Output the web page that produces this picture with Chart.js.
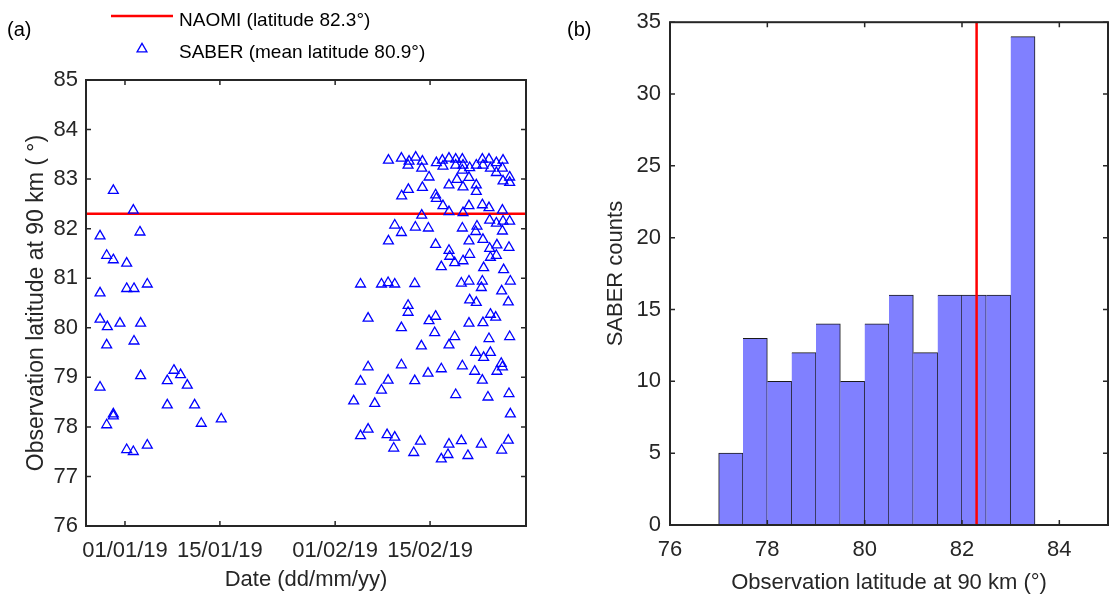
<!DOCTYPE html>
<html>
<head>
<meta charset="utf-8">
<script src="https://cdn.jsdelivr.net/npm/chart.js@4.4.0/dist/chart.umd.min.js"></script>
<style>
  body { margin: 0; background: #fff; }
  #wrap { position: relative; width: 1114px; height: 603px; }
  .panel { position: absolute; top: 0; height: 603px; }
  #pa { left: 0; width: 560px; }
  #pb { left: 560px; width: 554px; }
</style>
</head>
<body>
<div id="wrap">
  <div class="panel" id="pa"><canvas id="chartA"></canvas></div>
  <div class="panel" id="pb"><canvas id="chartB"></canvas></div>
</div>
<script>
// ---- data, panel (a): days since 01/01/19 and observation latitude ----
const janDays = [-1.72, 1.23, -3.68, 2.21, -2.70, -1.72, 0.25, -3.68, 0.25, 1.33, 3.29,
  -3.68, -2.60, -0.74, 2.31, -2.70, 1.33, 2.31, -3.68, 6.24, 7.22, 8.20, 9.19,
  -1.72, -1.72, -2.70, 6.24, 10.27, 11.25, 14.20, 0.25, 1.23, 3.29];
const janLats = [82.77, 82.37, 81.85, 81.93, 81.46, 81.37, 81.30, 80.70, 80.79, 80.79, 80.88,
  80.17, 80.02, 80.09, 80.09, 79.65, 79.73, 79.03, 78.80, 78.93, 79.14, 79.05, 78.84,
  78.26, 78.22, 78.04, 78.44, 78.44, 78.07, 78.16, 77.54, 77.50, 77.63];

const febDays = [
  38.86, 40.77, 41.90, 41.75, 42.88, 43.87, 43.77, 44.85, 43.87, 41.80, 40.81, 43.77, 39.79, 40.77, 42.83, 44.75, 38.86,
  45.93, 46.81, 46.90, 47.79, 48.78, 48.78, 49.76, 49.86, 49.76, 50.84, 51.82, 52.71, 53.69, 52.80, 53.90, 54.78,
  55.76, 55.67, 54.78, 56.74, 55.76, 56.74, 48.97, 50.74, 47.79, 49.86, 51.82, 51.82, 45.82, 45.93, 46.90, 47.79,
  49.86, 50.74, 52.71, 53.69, 55.67, 53.79, 54.78, 55.76, 56.74, 49.76, 51.92, 51.73, 55.67, 50.74, 52.80, 53.79,
  54.86, 56.64, 45.82, 47.79,
  34.74, 37.83, 38.81, 39.79, 42.74, 41.76, 41.76, 35.86, 40.77, 44.85, 43.72,
  47.90, 50.84, 54.78, 53.90, 46.66, 48.63, 49.86, 52.90, 55.85, 49.61, 50.74, 52.71, 52.56, 56.84, 55.56, 50.84,
  51.82, 56.54, 45.82, 50.74, 52.80, 53.90, 54.68, 45.68, 48.63, 47.79, 53.69, 56.74, 51.73, 53.90, 52.90,
  35.86, 40.77, 44.70, 34.74, 38.81, 42.74, 37.83, 33.73, 36.84, 35.86, 34.74, 38.66, 39.79, 39.64, 43.57, 42.59,
  46.66, 49.76, 51.58, 52.71, 55.50, 55.67, 54.86, 48.78, 53.54, 56.64, 56.84, 47.79, 49.61, 52.56, 56.54, 55.56,
  47.64, 46.66, 50.58];
const febLats = [
  83.38, 83.42, 83.36, 83.28, 83.44, 83.36, 83.22, 83.04, 82.83, 82.79, 82.66, 82.27, 82.07, 81.92, 82.03, 82.01, 81.75,
  83.33, 83.38, 83.26, 83.42, 83.40, 83.28, 83.40, 83.28, 83.18, 83.23, 83.28, 83.40, 83.40, 83.28, 83.22, 83.33,
  83.38, 83.22, 83.13, 83.04, 82.96, 82.93, 82.99, 83.03, 82.88, 82.84, 82.88, 82.75, 82.68, 82.61, 82.46, 82.34,
  82.32, 82.46, 82.48, 82.42, 82.37, 82.17, 82.11, 82.15, 82.15, 82.01, 82.05, 81.94, 81.95, 81.75, 81.78, 81.60,
  81.67, 81.62, 81.68, 81.56,
  80.88, 80.88, 80.91, 80.88, 80.89, 80.45, 80.31, 80.19, 80.00, 80.14, 79.63,
  81.44, 81.48, 81.46, 81.42, 81.23, 81.31, 81.35, 81.21, 81.17, 80.90, 80.94, 80.94, 80.81, 80.94, 80.74, 80.56,
  80.51, 80.52, 80.23, 80.09, 80.10, 80.27, 80.21, 79.90, 79.82, 79.65, 79.78, 79.82, 79.50, 79.50, 79.40,
  79.21, 79.25, 79.08, 78.92, 78.94, 78.93, 78.74, 78.52, 78.47, 77.95, 77.82, 77.84, 77.79, 77.57, 77.71, 77.48,
  79.17, 79.23, 79.12, 78.94, 79.28, 79.21, 79.12, 78.65, 78.60, 78.67, 78.26, 77.65, 77.72, 77.65, 77.73, 77.53,
  77.44, 77.35, 77.42];

const naomiLat = 82.3;
const dateRange = [-5.75, 59.15];            // 26/12/18 .. 01/03/19
const dateTickDays = [0, 14, 31, 45];
const dateTickLabels = ['01/01/19', '15/01/19', '01/02/19', '15/02/19'];

// ---- data, panel (b): histogram ----
const binCenters = [77.25, 77.75, 78.25, 78.75, 79.25, 79.75, 80.25, 80.75, 81.25, 81.75, 82.25, 82.75, 83.25];
const binCounts  = [5, 13, 10, 12, 14, 10, 14, 16, 12, 16, 16, 16, 34];
const latTicks = [76, 78, 80, 82, 84];

const FONT = "'Liberation Sans', Arial, Helvetica, sans-serif";
const AXIS = '#262626';

// box round the axes with inward ticks, like matlab
const boxPlugin = {
  id: 'mbox',
  afterDatasetsDraw(chart) {
    const {ctx, chartArea: a, scales} = chart;
    ctx.save();
    ctx.strokeStyle = AXIS;
    ctx.lineWidth = 2;
    ctx.strokeRect(a.left, a.top, a.right - a.left, a.bottom - a.top);
    ctx.lineWidth = 1.5;
    ctx.beginPath();
    scales.x.ticks.forEach(t => {
      const p = scales.x.getPixelForValue(t.value);
      ctx.moveTo(p, a.bottom); ctx.lineTo(p, a.bottom - 5);
      ctx.moveTo(p, a.top); ctx.lineTo(p, a.top + 5);
    });
    scales.y.ticks.forEach(t => {
      const p = scales.y.getPixelForValue(t.value);
      ctx.moveTo(a.left, p); ctx.lineTo(a.left + 5, p);
      ctx.moveTo(a.right, p); ctx.lineTo(a.right - 5, p);
    });
    ctx.stroke();
    ctx.restore();
  }
};

function panelLabel(text) {
  return {
    id: 'plabel',
    afterDraw(chart) {
      const ctx = chart.ctx;
      ctx.save();
      ctx.font = '20px ' + FONT;
      ctx.fillStyle = '#000';
      ctx.textBaseline = 'middle';
      ctx.fillText(text, 7, 30);
      ctx.restore();
    }
  };
}

// legend above panel (a), two rows, no frame
const legendPlugin = {
  id: 'toplegend',
  afterDraw(chart) {
    const ctx = chart.ctx;
    const sab = chart.data.datasets[0];
    const nao = chart.data.datasets[1];
    ctx.save();
    ctx.font = '19px ' + FONT;
    ctx.fillStyle = '#000';
    ctx.textBaseline = 'middle';
    ctx.fillText(nao.label, 179, 21);
    ctx.fillText(sab.label, 179, 53);
    ctx.strokeStyle = nao.borderColor;
    ctx.lineWidth = nao.borderWidth;
    ctx.beginPath(); ctx.moveTo(111, 16); ctx.lineTo(173, 16); ctx.stroke();
    ctx.strokeStyle = sab.borderColor;
    ctx.lineWidth = sab.pointBorderWidth;
    ctx.fillStyle = 'rgba(0,0,0,0)';
    Chart.helpers.drawPoint(ctx, {pointStyle: 'triangle', radius: sab.pointRadius, borderWidth: sab.pointBorderWidth, rotation: 0}, 142, 49);
    ctx.restore();
  }
};

const sabPoints = janDays.map((d, i) => ({x: d, y: janLats[i]}))
  .concat(febDays.map((d, i) => ({x: d, y: febLats[i]})));

const chartA = new Chart(document.getElementById('chartA'), {
  type: 'scatter',
  data: {
    datasets: [{
      label: 'SABER (mean latitude 80.9°)',
      data: sabPoints,
      pointStyle: 'triangle',
      pointRadius: 5.7,
      pointBorderWidth: 1.3,
      borderColor: '#0000ff',
      backgroundColor: 'rgba(0,0,0,0)'
    }, {
      type: 'line',
      label: 'NAOMI (latitude 82.3°)',
      data: dateRange.map(d => ({x: d, y: naomiLat})),
      borderColor: '#ff0000',
      borderWidth: 2.5,
      pointRadius: 0
    }]
  },
  options: {
    responsive: true,
    maintainAspectRatio: false,
    animation: false,
    layout: {padding: {top: 80, right: 34, left: 0, bottom: 0}},
    plugins: {legend: {display: false}, tooltip: {enabled: false}},
    scales: {
      x: {
        type: 'linear', min: dateRange[0], max: dateRange[1],
        afterBuildTicks: s => { s.ticks = dateTickDays.map(v => ({value: v})); },
        afterFit: s => { s.height = 77; },
        grid: {display: false, drawTicks: false},
        border: {display: false},
        ticks: {
          padding: 12, color: AXIS, font: {family: FONT, size: 22},
          callback: v => dateTickLabels[dateTickDays.indexOf(v)]
        },
        title: {display: true, text: 'Date (dd/mm/yy)', color: AXIS,
          font: {family: FONT, size: 22}, padding: {top: 0, bottom: 10}}
      },
      y: {
        min: 76, max: 85,
        afterFit: s => { s.width = 86; },
        grid: {display: false, drawTicks: false},
        border: {display: false},
        ticks: {stepSize: 1, padding: 8, color: AXIS, font: {family: FONT, size: 22}},
        title: {display: true, text: 'Observation latitude at 90 km ( °)', color: AXIS,
          font: {family: FONT, size: 23}, padding: {top: 23, bottom: 0}}
      }
    }
  },
  plugins: [boxPlugin, legendPlugin, panelLabel('(a)')]
});

const chartB = new Chart(document.getElementById('chartB'), {
  type: 'bar',
  data: {
    datasets: [{
      type: 'line',
      label: 'NAOMI',
      data: [{x: naomiLat, y: 0}, {x: naomiLat, y: 35}],
      borderColor: '#ff0000',
      borderWidth: 2.5,
      pointRadius: 0
    }, {
      label: 'SABER counts',
      data: binCenters.map((c, i) => ({x: c, y: binCounts[i]})),
      backgroundColor: '#8080ff',
      borderColor: '#1a1a1a',
      borderWidth: ctx => ({top: 1, right: 1, bottom: 0, left: ctx.dataIndex === 0 ? 1 : 0}),
      borderSkipped: false,
      barPercentage: 1,
      categoryPercentage: 1,
      grouped: false
    }]
  },
  options: {
    responsive: true,
    maintainAspectRatio: false,
    animation: false,
    layout: {padding: {top: 18, right: 6, left: 0, bottom: 0}},
    plugins: {legend: {display: false}, tooltip: {enabled: false}},
    scales: {
      x: {
        type: 'linear', min: 76, max: 85, offset: false,
        afterBuildTicks: s => { s.ticks = latTicks.map(v => ({value: v})); },
        afterFit: s => { s.height = 78; },
        grid: {display: false, drawTicks: false, offset: false},
        border: {display: false},
        ticks: {padding: 12, color: AXIS, font: {family: FONT, size: 22}},
        title: {display: true, text: 'Observation latitude at 90 km (°)', color: AXIS,
          font: {family: FONT, size: 22}, padding: {top: 0, bottom: 7}}
      },
      y: {
        min: 0, max: 35,
        afterFit: s => { s.width = 110; },
        grid: {display: false, drawTicks: false},
        border: {display: false},
        ticks: {stepSize: 5, padding: 9, color: AXIS, font: {family: FONT, size: 22}},
        title: {display: true, text: 'SABER counts', color: AXIS,
          font: {family: FONT, size: 22}, padding: {top: 43, bottom: 0}}
      }
    }
  },
  plugins: [boxPlugin, panelLabel('(b)')]
});
</script>
</body>
</html>
